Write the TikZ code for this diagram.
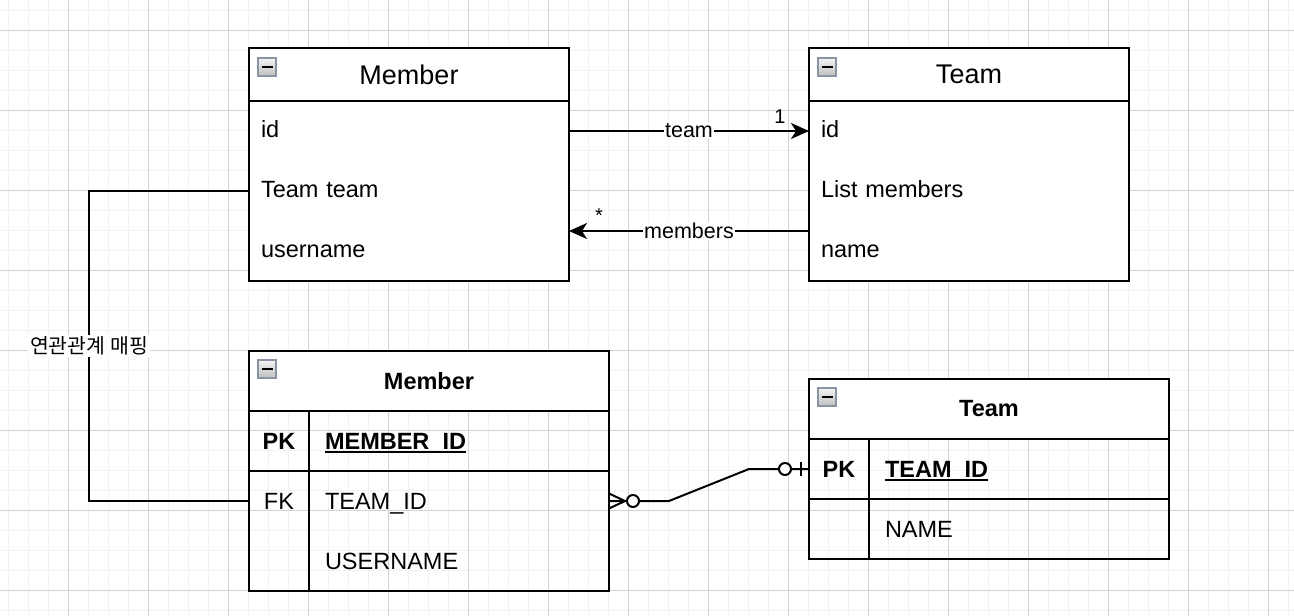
\documentclass[tikz,border=0pt]{standalone}
\usepackage{fontspec}
\setmainfont{Liberation Sans}
\newfontfamily\kr{Noto Sans CJK KR}
\usetikzlibrary{arrows.meta}
\definecolor{gridminor}{HTML}{F2F2F2}
\definecolor{gridmajor}{HTML}{D2D2D2}
\definecolor{iconborder}{HTML}{8C93A5}
\newcommand\keyul[1]{\setbox0\hbox{#1}\rlap{\rule[-3.8pt]{\wd0}{2pt}}\box0}
\begin{document}
\begin{tikzpicture}[x=1pt,y=-1pt,
  every node/.style={inner sep=0pt,outer sep=0pt},
  ln/.style={line width=2pt, black},
  ent/.style={draw, line width=2pt, anchor=north west},
  cell/.style={anchor=north west, text height=17pt},
  umlrow/.style={cell, minimum height=60pt, text width=296pt, inner xsep=12pt, align=left, text depth=5pt, font=\fontsize{23.5pt}{28pt}\selectfont},
  umlhdr/.style={anchor=north west, fill=white, minimum width=320pt, minimum height=53pt, font=\fontsize{27pt}{32pt}\selectfont},
  erhdr/.style={anchor=north west, fill=white, minimum width=360pt, minimum height=60pt, font=\bfseries\fontsize{23.5pt}{28pt}\selectfont},
  erkey/.style={cell, minimum width=60pt, minimum height=60pt, text depth=0pt, font=\bfseries\fontsize{23.5pt}{28pt}\selectfont},
  erfld/.style={cell, minimum height=60pt, text width=268pt, inner xsep=16pt, align=left, text depth=0pt, font=\fontsize{23.5pt}{28pt}\selectfont},
  erpk/.style={erfld, font=\bfseries\fontsize{23.5pt}{28pt}\selectfont},
  icon/.style={anchor=north west, minimum size=18pt, draw=iconborder, line width=1.2pt, top color=gray!8, bottom color=gray!50},
  lbl/.style={fill=white, inner sep=1pt, font=\fontsize{21.5pt}{26pt}\selectfont},
  num/.style={font=\fontsize{20pt}{24pt}\selectfont},
  circ/.style={circle, draw, line width=2pt, fill=white, minimum size=12pt},
  arr/.style={-{Stealth[length=18pt,width=16pt,inset=5pt]}}
]
\useasboundingbox (0,0) rectangle (1294,616);
\fill[white] (0,0) rectangle (1294,616);
% grid
\foreach \x in {8,28,...,1288} \draw[gridminor, line width=1pt] (\x,0) -- (\x,616);
\foreach \y in {10,30,...,610} \draw[gridminor, line width=1pt] (0,\y) -- (1294,\y);
\foreach \x in {68,148,...,1268} \draw[gridmajor, line width=1pt] (\x,0) -- (\x,616);
\foreach \y in {30,110,...,590} \draw[gridmajor, line width=1pt] (0,\y) -- (1294,\y);

% ---------- UML Member ----------
\node[ent, fill=white, minimum width=320pt, minimum height=233pt] (M) at (249,48) {};
\node[umlhdr] (Mh) at (249,48) {Member};
\node[ent, minimum width=320pt, minimum height=233pt] (Mb) at (249,48) {};
\draw[ln] (Mh.south west) -- (Mh.south east);
\node[umlrow] (Mid) at (249,101) {id};
\node[umlrow] (Mteam) at (249,161) {Team team};
\node[umlrow] (Muser) at (249,221) {username};
\node[icon] (Mic) at (258,58) {};
\draw[line width=2pt] ([xshift=3.5pt]Mic.west) -- ([xshift=-3.5pt]Mic.east);

% ---------- UML Team ----------
\node[ent, fill=white, minimum width=320pt, minimum height=233pt] (T) at (809,48) {};
\node[umlhdr] (Th) at (809,48) {Team};
\node[ent, minimum width=320pt, minimum height=233pt] (Tb) at (809,48) {};
\draw[ln] (Th.south west) -- (Th.south east);
\node[umlrow] (Tid) at (809,101) {id};
\node[umlrow] (Tlist) at (809,161) {List members};
\node[umlrow] (Tname) at (809,221) {name};
\node[icon] (Tic) at (818,58) {};
\draw[line width=2pt] ([xshift=3.5pt]Tic.west) -- ([xshift=-3.5pt]Tic.east);

% ---------- ER Member ----------
\node[erhdr] (MEh) at (249,351) {Member};
\node[ent, minimum width=360pt, minimum height=240pt] (ME) at (249,351) {};
\node[erkey] (MPKk) at (249,411) {PK};
\node[erpk] (MPKf) at (309,411) {\keyul{MEMBER\_ID}};
\node[erkey, font=\fontsize{23.5pt}{28pt}\selectfont] (MFKk) at (249,471) {FK};
\node[erfld] (MFKf) at (309,471) {TEAM\_ID};
\node[erkey] (MUNk) at (249,531) {};
\node[erfld] (MUNf) at (309,531) {USERNAME};
\draw[ln] (MEh.south west) -- (MEh.south east);
\draw[ln] (MPKk.south west) -- (MPKf.south east);
\draw[ln] (MPKk.north east) -- (MUNk.south east);
\node[icon] (MEic) at (258,360) {};
\draw[line width=2pt] ([xshift=3.5pt]MEic.west) -- ([xshift=-3.5pt]MEic.east);

% ---------- ER Team ----------
\node[erhdr] (TEh) at (809,379) {Team};
\node[ent, minimum width=360pt, minimum height=180pt] (TE) at (809,379) {};
\node[erkey] (TPKk) at (809,439) {PK};
\node[erpk] (TPKf) at (869,439) {\keyul{TEAM\_ID}};
\node[erkey] (TNMk) at (809,499) {};
\node[erfld] (TNMf) at (869,499) {NAME};
\draw[ln] (TEh.south west) -- (TEh.south east);
\draw[ln] (TPKk.south west) -- (TPKf.south east);
\draw[ln] (TPKk.north east) -- (TNMk.south east);
\node[icon] (TEic) at (818,388) {};
\draw[line width=2pt] ([xshift=3.5pt]TEic.west) -- ([xshift=-3.5pt]TEic.east);

% ---------- connectors ----------
\draw[ln, arr] (Mid.east) -- node[lbl] {team} node[num, pos=1, xshift=-29pt, yshift=14pt] {1} (Tid.west);
\draw[ln, arr] ([yshift=20pt]Tname.west) -- node[lbl] {members} node[num, pos=1, xshift=30pt, yshift=15pt] {*} ([yshift=20pt]Muser.east);
\draw[ln] (Mteam.west) -- ([xshift=-160pt]Mteam.west) |- node[pos=0.25, fill=white, inner sep=2pt, font=\kr\fontsize{20.5pt}{24pt}\selectfont] {연관관계 매핑} (MFKk.west);

% ER relation
\draw[ln] (MFKf.east) -- ([xshift=60pt]MFKf.east) -- ([xshift=-60pt]TPKk.west) -- (TPKk.west);
\draw[ln] ([yshift=7.5pt]MFKf.east) -- ([xshift=16pt]MFKf.east) -- ([yshift=-7.5pt]MFKf.east);
\node[circ] (c1) at ([xshift=24pt]MFKf.east) {};
\node[circ] (c2) at ([xshift=-24pt]TPKk.west) {};
\draw[ln] ([xshift=-8pt,yshift=7pt]TPKk.west) -- ([xshift=-8pt,yshift=-7pt]TPKk.west);
\end{tikzpicture}
\end{document}
